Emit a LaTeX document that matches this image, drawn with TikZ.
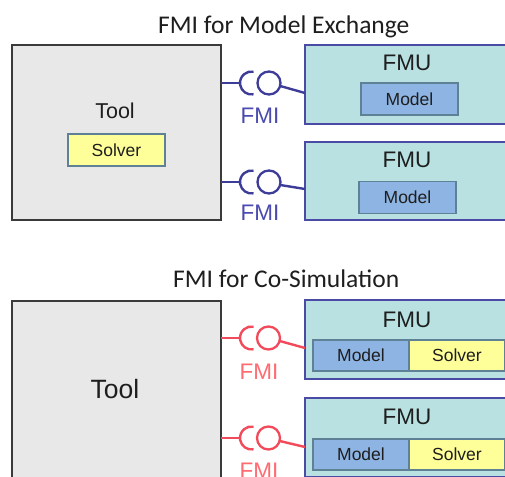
\documentclass[tikz,border=0pt]{standalone}
\usepackage{fontspec}
\setmainfont{Liberation Sans}
\newfontfamily\titlefont{Carlito}
\definecolor{toolfill}{HTML}{E8E8E8}
\definecolor{tooldraw}{HTML}{3A3A3A}
\definecolor{solverfill}{HTML}{FFFF99}
\definecolor{innerdraw}{HTML}{5F8196}
\definecolor{fmufill}{HTML}{B9E1E1}
\definecolor{fmudraw}{HTML}{4B4BA6}
\definecolor{modelfill}{HTML}{8DB4E2}
\definecolor{fmiblue}{HTML}{3D3D99}
\definecolor{fmibluetext}{HTML}{4A4AB0}
\definecolor{fmired}{HTML}{F24A5A}
\definecolor{fmiredtext}{HTML}{FF6B70}
\definecolor{txt}{HTML}{1E1E1E}
\begin{document}
\begin{tikzpicture}[x=1pt,y=-1pt,
  toolbox/.style={draw=tooldraw,fill=toolfill,line width=1.6pt,inner sep=0,outer sep=0},
  fmubox/.style={draw=fmudraw,fill=fmufill,line width=1.6pt,inner sep=0,outer sep=0},
  innerbox/.style={draw=innerdraw,line width=1.3pt,inner sep=0,outer sep=0,minimum width=97pt,minimum height=32pt,text=txt,font=\fontsize{17.5}{20}\selectfont},
  modelbox/.style={innerbox,fill=modelfill},
  solverbox/.style={innerbox,fill=solverfill},
  fmulabel/.style={text=txt,inner sep=0,font=\fontsize{22.5}{26}\selectfont},
  titlelabel/.style={text=txt,inner sep=0,anchor=base west,font=\titlefont\fontsize{25.5}{30}\selectfont},
  ball/.style={circle,draw,line width=2.3pt,minimum size=23pt,inner sep=0,outer sep=0},
  conn/.style={line width=2.4pt},
  fmilabel/.style={inner sep=0,font=\fontsize{22.5}{26}\selectfont}
]
\clip (0,0) rectangle (505,476);
\fill[white] (0,0) rectangle (505,476);

% ---------- Model Exchange ----------
\node[titlelabel] (title1) at (158,33.7) {FMI for Model Exchange};

\node[toolbox,minimum width=209pt,minimum height=175pt] (tool1) at (116.5,132.5) {};
\node[fmulabel,font=\fontsize{21.5}{25}\selectfont] (tool1lab) at (115,110.5) {Tool};
\node[solverbox] (solver1) at (116.5,150) {Solver};

\node[fmubox,minimum width=206pt,minimum height=79pt] (fmu1) at (408,84.5) {};
\node[fmulabel] (fmu1lab) at (407,63) {FMU};
\node[modelbox] (model1) at (409.5,99) {Model};

\node[fmubox,minimum width=206pt,minimum height=78pt] (fmu2) at (408,181) {};
\node[fmulabel] (fmu2lab) at (407,160) {FMU};
\node[modelbox] (model2) at (407.5,197.5) {Model};

% connector 1
\coordinate (s1) at (240,83);
\coordinate (e1) at (305,93);
\node[ball,draw=fmiblue] (b1) at (269,83) {};
\draw[conn,fmiblue] (tool1.east |- s1) -- (s1);
\draw[conn,fmiblue] ([shift={(80:11.5)}]251.5,83) arc[start angle=80,end angle=280,radius=11.5];
\draw[conn,fmiblue] (b1.-15) -- (e1);
\node[fmilabel,text=fmibluetext] (f1) at (260,115.5) {FMI};

% connector 2
\coordinate (s2) at (240,182);
\coordinate (e2) at (305,189);
\node[ball,draw=fmiblue] (b2) at (269,182) {};
\draw[conn,fmiblue] (tool1.east |- s2) -- (s2);
\draw[conn,fmiblue] ([shift={(80:11.5)}]251.5,182) arc[start angle=80,end angle=280,radius=11.5];
\draw[conn,fmiblue] (b2.-15) -- (e2);
\node[fmilabel,text=fmibluetext] (f2) at (260,213) {FMI};

% ---------- Co-Simulation ----------
\node[titlelabel] (title2) at (173,287.3) {FMI for Co-Simulation};

\node[toolbox,minimum width=209pt,minimum height=177pt] (tool2) at (116.5,389.5) {};
\node[fmulabel,font=\fontsize{26.5}{31}\selectfont] (tool2lab) at (115,389) {Tool};

\node[fmubox,minimum width=206pt,minimum height=79pt] (fmu3) at (408,339.5) {};
\node[fmulabel] (fmu3lab) at (407,320) {FMU};
\node[modelbox,minimum width=96pt,minimum height=31pt] (model3) at (361,355.5) {Model};
\node[solverbox,minimum width=96pt,minimum height=31pt] (solver3) at (457,355.5) {Solver};

\node[fmubox,minimum width=206pt,minimum height=79pt] (fmu4) at (408,437.5) {};
\node[fmulabel] (fmu4lab) at (407,417) {FMU};
\node[modelbox,minimum width=96pt,minimum height=31pt] (model4) at (361,454.5) {Model};
\node[solverbox,minimum width=96pt,minimum height=31pt] (solver4) at (457,454.5) {Solver};

% connector 3
\coordinate (s3) at (240,338);
\coordinate (e3) at (305,348);
\node[ball,draw=fmired] (b3) at (268.5,338) {};
\draw[conn,fmired] (tool2.east |- s3) -- (s3);
\draw[conn,fmired] ([shift={(80:11.5)}]251.5,338) arc[start angle=80,end angle=280,radius=11.5];
\draw[conn,fmired] (b3.-15) -- (e3);
\node[fmilabel,text=fmiredtext] (f3) at (259,372) {FMI};

% connector 4
\coordinate (s4) at (240,438);
\coordinate (e4) at (305,447);
\node[ball,draw=fmired] (b4) at (268.5,438) {};
\draw[conn,fmired] (tool2.east |- s4) -- (s4);
\draw[conn,fmired] ([shift={(80:11.5)}]251.5,438) arc[start angle=80,end angle=280,radius=11.5];
\draw[conn,fmired] (b4.-15) -- (e4);
\node[fmilabel,text=fmiredtext] (f4) at (259,471) {FMI};
\end{tikzpicture}
\end{document}
